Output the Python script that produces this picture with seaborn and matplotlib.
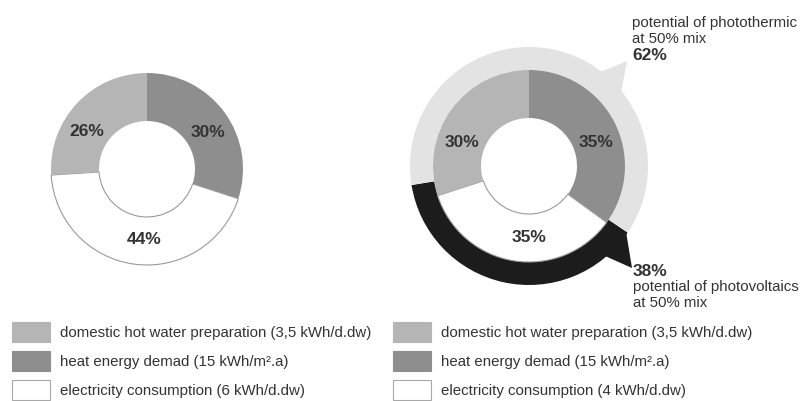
import numpy as np
import matplotlib
matplotlib.use("Agg")
import matplotlib.pyplot as plt
from matplotlib.patches import Patch, Polygon
import seaborn as sns

# ---------------- data ----------------
categories = ["heat energy demad", "electricity consumption", "domestic hot water preparation"]
left_values = [30, 44, 26]
right_values = [35, 35, 30]
left_legend = ["domestic hot water preparation (3,5 kWh/d.dw)",
               "heat energy demad (15 kWh/m\u00b2.a)",
               "electricity consumption (6 kWh/d.dw)"]
right_legend = ["domestic hot water preparation (3,5 kWh/d.dw)",
                "heat energy demad (15 kWh/m\u00b2.a)",
                "electricity consumption (4 kWh/d.dw)"]
potential_labels = ["photothermic", "photovoltaics"]
potential_values = [62, 38]

# ---------------- style ----------------
sns.set_theme(style="white")
plt.rcParams["font.family"] = ["Liberation Sans", "DejaVu Sans"]
TXT = "#333333"
C_HEAT = "#8e8e8e"
C_ELEC = "#ffffff"
C_DHW = "#b5b5b5"
C_THERM = "#e3e3e3"
C_PV = "#1c1c1c"
EDGE = "#9a9a9a"

W, H = 806, 401
fig = plt.figure(figsize=(W / 100, H / 100), dpi=100)
ax = fig.add_axes([0, 0, 1, 1])

def P(x, y):
    return (x, H - y)

def polar(cx, cy, r, ang_cw):
    a = np.deg2rad(ang_cw)
    return (cx + r * np.sin(a), (H - cy) + r * np.cos(a))

R_OUT, R_IN = 96, 48
R_RING = 119
LC = (147, 169)
RC = (529, 166)
inner_colors = [C_HEAT, C_ELEC, C_DHW]

def donut(center, values, label_angles):
    cx, cy = center
    wedges, _, autotexts = ax.pie(
        values, colors=inner_colors, radius=R_OUT, center=P(cx, cy),
        startangle=90, counterclock=False,
        autopct=lambda p: f"{p:.0f}%",
        wedgeprops=dict(width=R_OUT - R_IN, linewidth=0),
        textprops=dict(fontsize=12.5, fontweight="bold", color=TXT))
    wedges[1].set_edgecolor(EDGE)
    wedges[1].set_linewidth(0.8)
    for t, ang in zip(autotexts, label_angles):
        t.set_position(polar(cx, cy, 71, ang))
        t.set_ha("center")
        t.set_va("center")
    return wedges

# ---------------- right outer ring (potentials) ----------------
ring_colors = [C_THERM, C_PV]
pv_start = 124  # clockwise angle from top where the photovoltaic arc starts
ax.pie(potential_values[::-1], colors=ring_colors[::-1], radius=R_RING,
       center=P(*RC), startangle=90 - pv_start, counterclock=False,
       wedgeprops=dict(width=R_RING - R_OUT, linewidth=0))

# callout tails
therm_tail = [polar(*RC, 114, 36), P(627, 61), polar(*RC, 114, 53)]
pv_tail = [polar(*RC, 117, pv_start), P(632, 268), polar(*RC, 117, 140)]
ax.add_patch(Polygon(therm_tail, closed=True, facecolor=C_THERM, edgecolor="none"))
ax.add_patch(Polygon(pv_tail, closed=True, facecolor=C_PV, edgecolor="none"))

# ---------------- donuts ----------------
donut(LC, left_values, [59, 182, 302])
donut(RC, right_values, [71, 180, 289])

# ---------------- callout texts ----------------
fs = 10.8
ax.text(*P(632, 22.5), "potential of photothermic", fontsize=fs, color=TXT, va="center", ha="left")
ax.text(*P(632, 39), "at 50% mix", fontsize=fs, color=TXT, va="center", ha="left")
ax.text(*P(632, 55), f"{potential_values[0]}%", fontsize=12.5, fontweight="bold", color=TXT,
        va="center", ha="left")
ax.text(*P(633, 272), f"{potential_values[1]}%", fontsize=12.5, fontweight="bold", color=TXT,
        va="center", ha="left")
ax.text(*P(633, 287.5), "potential of photovoltaics", fontsize=fs, color=TXT, va="center", ha="left")
ax.text(*P(633, 303), "at 50% mix", fontsize=fs, color=TXT, va="center", ha="left")

# ---------------- legends ----------------
def make_legend(labels, x0):
    handles = [Patch(facecolor=C_DHW, edgecolor=C_DHW, linewidth=0.8),
               Patch(facecolor=C_HEAT, edgecolor=C_HEAT, linewidth=0.8),
               Patch(facecolor=C_ELEC, edgecolor="#a8a8a8", linewidth=0.8)]
    leg = ax.legend(handles, labels, loc="upper left",
                    bbox_to_anchor=(x0 / W, 1 - 322 / H), bbox_transform=fig.transFigure,
                    frameon=False, fontsize=fs, handlelength=2.55, handleheight=1.65,
                    labelspacing=0.62, handletextpad=0.65, borderpad=0, borderaxespad=0)
    for t in leg.get_texts():
        t.set_color(TXT)
    return leg

leg1 = make_legend(left_legend, 12)
ax.add_artist(leg1)
make_legend(right_legend, 393)

ax.set_xlim(0, W)
ax.set_ylim(0, H)
ax.set_aspect("equal")
ax.axis("off")
fig.savefig("out.png", dpi=100, facecolor="white")
